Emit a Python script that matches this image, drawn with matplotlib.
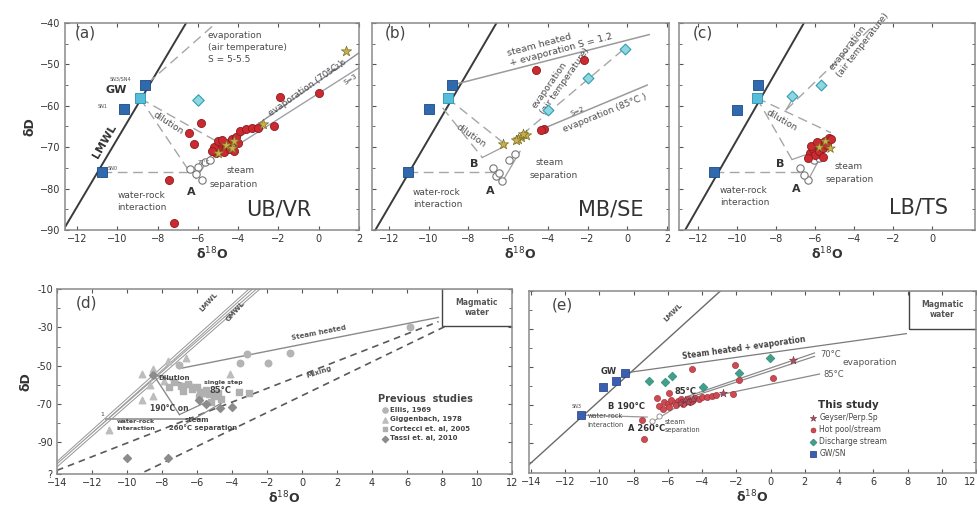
import numpy as np
import matplotlib
matplotlib.use('Agg')
import matplotlib.pyplot as plt
from matplotlib.patches import Rectangle

plt.rcParams['font.family'] = ['DejaVu Sans']

# ---------------- data : panel (a) UB/VR ----------------
a_sn_x = [-8.62, -9.69, -10.76]
a_sn_y = [-55.0, -60.8, -75.9]
a_gw_x = [-8.87]
a_gw_y = [-58.2]
a_diam_x = [-5.99]
a_diam_y = [-58.5]
a_red_x = [-7.42, -7.2, -6.43, -5.85, -6.2, -1.9, 0.0, -2.2,
           -5.1, -5.0, -4.9, -4.8, -4.6, -4.7, -4.5, -4.4, -5.2, -5.0,
           -4.3, -4.1, -3.9, -3.6, -3.3, -3.0, -4.0, -4.8, -5.3, -4.2]
a_red_y = [-77.9, -88.2, -66.5, -64.1, -69.3, -57.8, -56.9, -64.8,
           -71.5, -70.5, -69.5, -70.8, -70.0, -71.2, -69.0, -70.5, -70.0, -68.6,
           -68.0, -67.5, -66.2, -65.6, -65.3, -65.3, -69.0, -68.2, -71.0, -71.0]
a_star_x = [1.35, -2.76, -4.6, -4.3, -5.0, -4.2]
a_star_y = [-46.8, -64.3, -69.5, -70.2, -71.5, -68.6]
a_open_x = [-5.66, -6.0, -6.38, -6.1, -5.8, -5.4]
a_open_y = [-73.6, -74.8, -75.3, -76.4, -77.9, -73.0]
a_evapair_x = [-8.5, -5.1]
a_evapair_y = [-54.6, -40.0]
a_dil1_x = [-8.87, -5.1]
a_dil1_y = [-58.2, -68.5]
a_dil2_x = [-8.87, -6.5]
a_dil2_y = [-58.2, -75.3]
a_wr_x = [-10.76, -6.2]
a_wr_y = [-75.9, -75.9]
a_sep_x = [-6.1, -5.3]
a_sep_y = [-77.6, -71.6]
a_evap70_x = [-4.5, 2.0]
a_evap70_y = [-69.5, -47.2]
a_s3_x = [-4.2, 2.0]
a_s3_y = [-70.0, -50.8]

# ---------------- data : panel (b) MB/SE ----------------
b_sn_x = [-8.82, -9.96, -11.05]
b_sn_y = [-55.0, -60.8, -76.1]
b_gw_x = [-9.04]
b_gw_y = [-58.2]
b_red_x = [-4.6, -2.18, -4.18, -4.35]
b_red_y = [-51.4, -49.0, -65.5, -65.8]
b_diam_x = [-0.13, -1.96, -3.97]
b_diam_y = [-46.2, -53.3, -61.1]
b_star_x = [-6.28, -5.35, -5.1, -5.25, -5.5, -5.6]
b_star_y = [-69.3, -67.6, -67.0, -66.8, -68.0, -68.3]
b_open_x = [-5.64, -5.94, -6.78, -6.6, -6.3, -6.45]
b_open_y = [-71.7, -73.1, -75.1, -77.0, -78.1, -76.2]
b_sh_x = [-8.82, 1.1]
b_sh_y = [-55.0, -42.8]
b_evapair_x = [-5.3, -0.1]
b_evapair_y = [-67.0, -46.0]
b_evap85_x = [-4.43, 1.0]
b_evap85_y = [-65.9, -55.0]
b_dil1_x = [-9.04, -6.2]
b_dil1_y = [-58.2, -69.1]
b_dil2_x = [-9.3, -7.3]
b_dil2_y = [-60.5, -72.5]
b_b_x = [-7.3, -6.1]
b_b_y = [-72.5, -69.6]
b_wr_x = [-11.05, -6.6]
b_wr_y = [-76.1, -76.1]
b_sep_x = [-6.3, -5.4]
b_sep_y = [-78.4, -71.0]

# ---------------- data : panel (c) LB/TS ----------------
c_sn_x = [-8.94, -10.03, -11.2]
c_sn_y = [-55.0, -60.9, -76.1]
c_gw_x = [-9.01]
c_gw_y = [-58.1]
c_diam_x = [-7.18, -5.69]
c_diam_y = [-57.7, -55.0]
c_red_x = [-6.3, -6.1, -5.9, -5.7, -5.5, -5.3, -6.0, -5.8, -5.6, -6.4, -5.4, -5.2,
           -6.2, -5.9, -5.6]
c_red_y = [-71.5, -70.5, -69.8, -69.0, -68.5, -67.8, -72.0, -71.0, -70.3, -72.5,
           -69.5, -68.0, -69.8, -68.8, -72.4]
c_star_x = [-5.26, -5.5, -5.8]
c_star_y = [-70.3, -68.6, -69.9]
c_open_x = [-6.07, -6.8, -6.36, -6.6, -5.8]
c_open_y = [-73.1, -75.1, -78.0, -76.8, -72.6]
c_evapair_x = [-7.5, -3.1]
c_evapair_y = [-61.0, -41.0]
c_evapair2_x = [-7.5, -7.1]
c_evapair2_y = [-61.0, -57.7]
c_dil1_x = [-9.01, -5.2]
c_dil1_y = [-58.1, -66.5]
c_dil2_x = [-9.01, -7.2]
c_dil2_y = [-58.1, -73.0]
c_b_x = [-7.2, -6.3, -5.6]
c_b_y = [-73.0, -71.5, -68.0]
c_wr_x = [-11.2, -6.8]
c_wr_y = [-76.1, -76.1]
c_sep_x = [-6.4, -5.6]
c_sep_y = [-78.2, -71.2]

# ---------------- data : panel (d) previous studies ----------------
d_ellis_x = [-3.12, -3.52, -1.95, -0.71, 6.2, -7.01, -6.3, -5.6]
d_ellis_y = [-43.9, -48.8, -48.6, -43.5, -29.8, -49.7, -61.0, -64.0]
d_gigg_x = [-9.16, -8.49, -6.6, -7.64, -9.16, -8.49, -11.05, -4.13, -8.7, -7.9]
d_gigg_y = [-54.1, -51.8, -46.0, -47.4, -68.1, -65.9, -83.4, -54.4, -60.0, -58.0]
d_cort_x = [-7.3, -6.9, -6.5, -6.3, -6.0, -5.8, -5.5, -5.3, -5.0, -4.8, -4.6, -6.8,
            -5.9, -5.2, -3.6, -3.0, -7.6]
d_cort_y = [-58.5, -60.5, -59.5, -62.0, -61.0, -63.5, -62.5, -65.0, -66.0, -64.0,
            -67.5, -63.0, -66.5, -69.0, -63.5, -64.5, -61.0]
d_tassi_x = [-10.0, -7.64, -5.5, -4.7, -4.0, -8.5, -5.9]
d_tassi_y = [-98.0, -98.3, -70.0, -72.0, -71.5, -55.0, -68.0]
d_sh_x = [-7.0, 7.8]
d_sh_y = [-51.5, -24.8]
d_mix1_x = [-14.0, 7.8]
d_mix1_y = [-104.6, -27.0]
d_mix2_x = [-9.6, 8.3]
d_mix2_y = [-108.0, -29.0]
d_dil1_x = [-8.5, -5.0]
d_dil1_y = [-54.5, -64.5]
d_dil2_x = [-8.5, -7.0]
d_dil2_y = [-54.5, -75.5]
d_wr_x = [-11.2, -5.8]
d_wr_y = [-78.0, -78.0]
d_st1_x = [-7.0, -5.0]
d_st1_y = [-75.5, -67.0]
d_st2_x = [-6.6, -4.6]
d_st2_y = [-80.0, -69.5]

# ---------------- data : panel (e) this study ----------------
e_sn_x = [-8.48, -9.03, -9.77, -11.08]
e_sn_y = [-53.2, -57.6, -60.6, -75.2]
e_dis_x = [-7.12, -6.16, -5.75, -3.92, -1.86, -0.02]
e_dis_y = [-57.6, -58.0, -55.0, -60.9, -53.2, -45.1]
e_hot_x = [-4.58, -2.05, -1.86, 0.13, -2.2, -5.9, -7.37, -7.5,
           -6.5, -6.2, -6.0, -5.8, -5.6, -5.4, -5.2, -5.0, -4.8, -4.6, -4.4, -4.2,
           -4.0, -3.7, -3.4, -6.3, -5.9, -5.5, -5.1, -4.7, -6.6, -3.2]
e_hot_y = [-51.0, -49.2, -57.1, -55.9, -64.1, -63.8, -87.9, -78.0,
           -70.5, -68.5, -69.5, -67.5, -69.0, -68.0, -66.8, -68.5, -67.0, -67.8, -66.5, -67.2,
           -65.8, -66.0, -65.2, -72.0, -71.2, -70.2, -69.8, -68.8, -66.5, -64.8]
e_gey_x = [1.3, -2.79, -5.0, -4.8, -5.3, -4.5]
e_gey_y = [-46.5, -63.8, -67.5, -68.8, -69.0, -67.0]
e_open_x = [-6.9, -6.5]
e_open_y = [-78.5, -76.0]
e_sh_x = [-8.48, 7.93]
e_sh_y = [-53.2, -32.5]
e_e70a_x = [-4.94, 2.57]
e_e70a_y = [-65.9, -42.7]
e_e70b_x = [-4.94, 2.57]
e_e70b_y = [-66.8, -44.5]
e_e85_x = [-4.94, 2.86]
e_e85_y = [-68.5, -53.8]
e_wr_x = [-11.0, -7.2]
e_wr_y = [-75.5, -76.5]
e_sep_x = [-6.8, -5.0]
e_sep_y = [-78.5, -68.5]

# meteoric water lines (slope, intercept)
lmwl = (8.2, 14.0)
gmwl = (8.0, 10.0)

RED = '#cc2a30'
RED_E = '#8a1c20'
BLUE = '#2f6aae'
CYAN = '#54bedb'
DIAM = '#8fd6df'
DIAM_E = '#2d9fb3'
STAR = '#c8b24c'
STAR_E = '#7d6e26'
LGREY = '#a6a6a6'
TXT = '#4a4a4a'


def style(ax, xlim, ylim, xmaj, ymaj, ymin, ylabels=True, fs=7):
    ax.set_xlim(xlim)
    ax.set_ylim(ylim)
    ax.set_xticks(xmaj)
    ax.set_yticks(ymaj)
    ax.set_yticks(ymin, minor=True)
    ax.tick_params(which='both', direction='in', top=True, right=True,
                   labelsize=fs, colors='#555555', labelcolor='#333333', length=3, pad=3)
    ax.tick_params(which='minor', length=2)
    if not ylabels:
        ax.set_yticklabels([])
    for s in ax.spines.values():
        s.set_color('#8a8a8a')
        s.set_linewidth(1.1)


def draw_lmwl(ax, x0, x1, **kw):
    xs = np.array([x0, x1])
    ax.plot(xs, lmwl[0] * xs + lmwl[1], **kw)


fig = plt.figure(figsize=(9.77, 5.13), dpi=100)

ax_a = fig.add_axes([0.0665, 0.5517, 0.301, 0.4035])
ax_b = fig.add_axes([0.3808, 0.5517, 0.304, 0.4035])
ax_c = fig.add_axes([0.695, 0.5517, 0.303, 0.4035])
ax_d = fig.add_axes([0.0583, 0.076, 0.4657, 0.3606])
ax_e = fig.add_axes([0.5415, 0.078, 0.4575, 0.3548])

yt_top = [-90, -80, -70, -60, -50, -40]
ym_top = list(range(-90, -39, 5))
style(ax_a, (-12.6, 2.0), (-90, -40), [-12, -10, -8, -6, -4, -2, 0, 2], yt_top, ym_top)
style(ax_b, (-12.85, 2.1), (-90, -40), [-12, -10, -8, -6, -4, -2, 0, 2], yt_top, ym_top, ylabels=False)
style(ax_c, (-13.0, 2.2), (-90, -40), [-12, -10, -8, -6, -4, -2, 0], yt_top, ym_top, ylabels=False)
style(ax_d, (-14, 12), (-106.5, -10), list(range(-14, 13, 2)), [-106.5, -90, -70, -50, -30, -10],
      list(range(-100, -9, 10)), fs=7)
ax_d.set_yticklabels(['?', '-90', '-70', '-50', '-30', '-10'])
style(ax_e, (-14.1, 12), (-106, -10), list(range(-14, 13, 2)), [-90, -70, -50, -30, -10],
      list(range(-100, -9, 10)), ylabels=False, fs=7)
# last x label of (e) sits at the figure edge
ax_e.get_xticklabels()[-1].set_horizontalalignment('right')

for ax in [ax_a, ax_b, ax_c, ax_d, ax_e]:
    ax.set_xlabel('δ$^{18}$O', fontsize=9, fontweight='bold', color='#333333', labelpad=1)
ax_a.set_ylabel('δD', fontsize=9, fontweight='bold', color='#333333', labelpad=3)
ax_d.set_ylabel('δD', fontsize=9, fontweight='bold', color='#333333', labelpad=3)

dash = dict(color=LGREY, lw=1.0, ls=(0, (7, 4)))
thin = dict(color='#9e9e9e', lw=0.9)
ann = dict(color=TXT, fontsize=6.5)

# ---------------- panel (a) ----------------
ax = ax_a
draw_lmwl(ax, -13, -5, color='#3a3a3a', lw=1.4)
ax.plot(a_evapair_x, a_evapair_y, **dash)
ax.plot(a_dil1_x, a_dil1_y, **dash)
ax.plot(a_dil2_x, a_dil2_y, **dash)
ax.plot(a_wr_x, a_wr_y, **dash)
ax.plot(a_sep_x, a_sep_y, **thin)
ax.plot(a_evap70_x, a_evap70_y, color='#8c8c9a', lw=1.0)
ax.plot(a_s3_x, a_s3_y, color='#a0a0a8', lw=1.0)
ax.scatter(a_open_x, a_open_y, s=28, facecolor='white', edgecolor='#777777', lw=0.8, zorder=3)
ax.scatter(a_red_x, a_red_y, s=34, color=RED, edgecolor=RED_E, lw=0.6, zorder=4)
ax.scatter(a_star_x, a_star_y, s=60, marker='*', color=STAR, edgecolor=STAR_E, lw=0.5, zorder=5)
ax.scatter(a_diam_x, a_diam_y, s=34, marker='D', color=DIAM, edgecolor=DIAM_E, lw=0.8, zorder=5)
ax.scatter(a_sn_x, a_sn_y, s=42, marker='s', color=BLUE, edgecolor='#1d4a80', lw=0.6, zorder=5)
ax.scatter(a_gw_x, a_gw_y, s=42, marker='s', color=CYAN, edgecolor='#2a8fb0', lw=0.6, zorder=6)
ax.text(-12.1, -43.5, '(a)', fontsize=11, color='#444444')
ax.text(-5.5, -42.0, 'evaporation\n(air temperature)\nS = 5-5.5', va='top', linespacing=1.4, **ann)
ax.text(-10.4, -53.8, 'SN3/SN4', fontsize=3.5, color=TXT)
ax.text(-10.6, -57.0, 'GW', fontsize=8, fontweight='bold', color='#333333')
ax.text(-11.0, -60.6, 'SN1', fontsize=3.5, color=TXT)
ax.text(-10.5, -75.4, 'SN0', fontsize=3.5, color=TXT)
ax.text(-11.3, -72.5, 'LMWL', fontsize=8, fontweight='bold', color='#333333', rotation=60)
ax.text(-8.3, -67.0, 'dilution', rotation=-33, **ann)
ax.text(-4.6, -76.3, 'steam', **ann)
ax.text(-5.4, -79.6, 'separation', **ann)
ax.text(-6.55, -81.6, 'A', fontsize=8, fontweight='bold', color='#333333')
ax.text(-10.0, -85.2, 'water-rock\ninteraction', linespacing=1.4, **ann)
ax.text(-3.6, -86.5, 'UB/VR', fontsize=15, color='#333333')
ax.text(-2.6, -62.5, 'evaporation (70°C )', rotation=35, **ann)
ax.text(0.4, -52.5, 'S=3.6', fontsize=5, color=TXT, rotation=35)
ax.text(1.2, -55.0, 'S=3', fontsize=5, color=TXT, rotation=33)
ax.text(-6.0, -74.0, '70°C', fontsize=3.5, color=TXT)

# ---------------- panel (b) ----------------
ax = ax_b
draw_lmwl(ax, -13, -5, color='#3a3a3a', lw=1.4)
ax.plot(b_sh_x, b_sh_y, color='#9a9a9a', lw=1.1)
ax.plot(b_evapair_x, b_evapair_y, **dash)
ax.plot(b_evap85_x, b_evap85_y, color='#9a9a9a', lw=1.1)
ax.plot(b_dil1_x, b_dil1_y, **dash)
ax.plot(b_dil2_x, b_dil2_y, **dash)
ax.plot(b_b_x, b_b_y, **thin)
ax.plot(b_wr_x, b_wr_y, **dash)
ax.plot(b_sep_x, b_sep_y, **thin)
ax.scatter(b_open_x, b_open_y, s=28, facecolor='white', edgecolor='#777777', lw=0.8, zorder=3)
ax.scatter(b_red_x, b_red_y, s=34, color=RED, edgecolor=RED_E, lw=0.6, zorder=4)
ax.scatter(b_star_x, b_star_y, s=60, marker='*', color=STAR, edgecolor=STAR_E, lw=0.5, zorder=5)
ax.scatter(b_diam_x, b_diam_y, s=30, marker='D', color=DIAM, edgecolor=DIAM_E, lw=0.8, zorder=5)
ax.scatter(b_sn_x, b_sn_y, s=42, marker='s', color=BLUE, edgecolor='#1d4a80', lw=0.6, zorder=5)
ax.scatter(b_gw_x, b_gw_y, s=42, marker='s', color=CYAN, edgecolor='#2a8fb0', lw=0.6, zorder=6)
ax.text(-12.2, -43.5, '(b)', fontsize=11, color='#444444')
ax.text(-6.1, -50.5, 'steam heated\n+ evaporation S = 1.2', rotation=15, linespacing=1.3,
        fontsize=6.8, color=TXT)
ax.text(-4.9, -62.0, 'evaporation\n(air temperature)', rotation=55, linespacing=1.2, **ann)
ax.text(-2.9, -62.5, 'S=2', fontsize=5, color=TXT, rotation=23)
ax.text(-3.3, -66.3, 'evaporation (85°C )', rotation=22, **ann)
ax.text(-8.7, -70.0, 'dilution', rotation=-35, **ann)
ax.text(-7.9, -74.8, 'B', fontsize=8, fontweight='bold', color='#333333')
ax.text(-7.1, -81.3, 'A', fontsize=8, fontweight='bold', color='#333333')
ax.text(-4.6, -74.3, 'steam', **ann)
ax.text(-4.9, -77.4, 'separation', **ann)
ax.text(-10.8, -84.5, 'water-rock\ninteraction', linespacing=1.4, **ann)
ax.text(-2.5, -86.5, 'MB/SE', fontsize=15, color='#333333')

# ---------------- panel (c) ----------------
ax = ax_c
draw_lmwl(ax, -13.5, -5, color='#3a3a3a', lw=1.4)
ax.plot(c_evapair_x, c_evapair_y, **dash)
ax.plot(c_evapair2_x, c_evapair2_y, **thin)
ax.plot(c_dil1_x, c_dil1_y, **dash)
ax.plot(c_dil2_x, c_dil2_y, **dash)
ax.plot(c_b_x, c_b_y, **thin)
ax.plot(c_wr_x, c_wr_y, **dash)
ax.plot(c_sep_x, c_sep_y, **thin)
ax.scatter(c_open_x, c_open_y, s=28, facecolor='white', edgecolor='#777777', lw=0.8, zorder=3)
ax.scatter(c_red_x, c_red_y, s=34, color=RED, edgecolor=RED_E, lw=0.6, zorder=4)
ax.scatter(c_star_x, c_star_y, s=50, marker='*', color=STAR, edgecolor=STAR_E, lw=0.5, zorder=5)
ax.scatter(c_diam_x, c_diam_y, s=30, marker='D', color=DIAM, edgecolor=DIAM_E, lw=0.8, zorder=5)
ax.scatter(c_sn_x, c_sn_y, s=42, marker='s', color=BLUE, edgecolor='#1d4a80', lw=0.6, zorder=5)
ax.scatter(c_gw_x, c_gw_y, s=42, marker='s', color=CYAN, edgecolor='#2a8fb0', lw=0.6, zorder=6)
ax.text(-12.3, -43.5, '(c)', fontsize=11, color='#444444')
ax.text(-5.4, -53.0, 'evaporation\n(air temperature)', rotation=52, linespacing=1.2, **ann)
ax.text(-8.6, -66.0, 'dilution', rotation=-30, **ann)
ax.text(-8.0, -74.8, 'B', fontsize=8, fontweight='bold', color='#333333')
ax.text(-7.2, -80.8, 'A', fontsize=8, fontweight='bold', color='#333333')
ax.text(-5.0, -75.3, 'steam', **ann)
ax.text(-5.5, -78.5, 'separation', **ann)
ax.text(-10.9, -84.0, 'water-rock\ninteraction', linespacing=1.4, **ann)
ax.text(-2.2, -86.0, 'LB/TS', fontsize=15, color='#333333')

# ---------------- panel (d) ----------------
ax = ax_d
xs = np.array([-14.5, -2.0])
ax.plot(xs, lmwl[0] * xs + lmwl[1], color='#9a9a9a', lw=2.4)
ax.plot(xs, lmwl[0] * xs + lmwl[1], color='white', lw=0.9)
ax.plot(xs, gmwl[0] * xs + gmwl[1], color='#9a9a9a', lw=2.4)
ax.plot(xs, gmwl[0] * xs + gmwl[1], color='white', lw=0.9)
ax.plot(d_sh_x, d_sh_y, color='#8a8a8a', lw=1.0)
ax.plot(d_mix1_x, d_mix1_y, color='#5a5a5a', lw=1.2, ls=(0, (4, 3)))
ax.plot(d_mix2_x, d_mix2_y, color='#5a5a5a', lw=1.2, ls=(0, (4, 3)))
ax.plot(d_dil1_x, d_dil1_y, color='#8a8a8a', lw=1.0)
ax.plot(d_dil2_x, d_dil2_y, color='#8a8a8a', lw=1.0)
ax.plot(d_wr_x, d_wr_y, color='#a0a0a0', lw=1.4)
ax.plot(d_st1_x, d_st1_y, color='#8a8a8a', lw=0.9)
ax.plot(d_st2_x, d_st2_y, color='#8a8a8a', lw=0.9)
ax.scatter(d_ellis_x, d_ellis_y, s=22, marker='o', color='#b4b4b4', label='Ellis, 1969', zorder=3)
ax.scatter(d_gigg_x, d_gigg_y, s=22, marker='^', color='#bdbdbd', label='Giggenbach, 1978', zorder=3)
ax.scatter(d_cort_x, d_cort_y, s=18, marker='s', color='#b0b0b0', label='Cortecci et. al, 2005', zorder=3)
ax.scatter(d_tassi_x, d_tassi_y, s=16, marker='D', color='#8c8c8c', label='Tassi et. al, 2010', zorder=3)
ax.add_patch(Rectangle((8.0, -29.3), 4.2, 19.6, fill=False, ec='#444444', lw=1.0))
ax.text(10.0, -19.5, 'Magmatic\nwater', ha='center', va='center', fontsize=5.5,
        fontweight='bold', color='#555555')
ax.text(-12.9, -19.5, '(d)', fontsize=11, color='#444444')
ax.text(-5.9, -22.0, 'LMWL', fontsize=5, fontweight='bold', color='#555555', rotation=48)
ax.text(-4.4, -27.0, 'GMWL', fontsize=5, fontweight='bold', color='#555555', rotation=48)
ax.text(-0.6, -36.5, 'Steam heated', fontsize=5, fontweight='bold', color='#555555', rotation=11)
ax.text(0.2, -56.5, 'Mixing', fontsize=5, fontweight='bold', color='#555555', rotation=18)
ax.text(-8.2, -57.5, 'Dilution', fontsize=5, fontweight='bold', color='#444444')
ax.text(-5.6, -59.5, 'single step', fontsize=4.5, fontweight='bold', color='#444444')
ax.text(-5.3, -64.5, '85°C', fontsize=6, fontweight='bold', color='#444444')
ax.text(-8.7, -73.5, '190°C on', fontsize=5.5, fontweight='bold', color='#444444')
ax.text(-6.7, -79.5, 'steam', fontsize=5, fontweight='bold', color='#444444')
ax.text(-7.6, -83.5, '260°C separation', fontsize=5, fontweight='bold', color='#444444')
ax.text(-10.6, -83.5, 'water-rock\ninteraction', fontsize=4.5, fontweight='bold',
        color='#444444', linespacing=1.6)
ax.text(-11.5, -76.0, '1', fontsize=4.5, color='#444444')
leg = ax.legend(loc='upper left', bbox_to_anchor=(0.70, 0.45), frameon=False, fontsize=5,
                title='Previous  studies', handletextpad=0.3, labelspacing=0.5,
                borderaxespad=0, handlelength=1.0, markerscale=0.8)
leg.get_title().set_fontweight('bold')
leg.get_title().set_fontsize(7)
leg.get_title().set_color('#444444')
for t in leg.get_texts():
    t.set_color('#444444')
    t.set_fontweight('bold')

# ---------------- panel (e) ----------------
ax = ax_e
draw_lmwl(ax, -14.5, -2.8, color='#6a6a6a', lw=1.0)
ax.plot(e_sh_x, e_sh_y, color='#7a7a7a', lw=0.9)
ax.plot(e_e70a_x, e_e70a_y, color='#8a8a8a', lw=0.9)
ax.plot(e_e70b_x, e_e70b_y, color='#8a8a8a', lw=0.9)
ax.plot(e_e85_x, e_e85_y, color='#8a8a8a', lw=0.9)
ax.plot(e_wr_x, e_wr_y, color='#9a9a9a', lw=0.9)
ax.plot(e_sep_x, e_sep_y, color='#9a9a9a', lw=0.9)
ax.scatter(e_open_x, e_open_y, s=14, facecolor='white', edgecolor='#888888', lw=0.6, zorder=3)
ax.scatter(e_gey_x, e_gey_y, s=36, marker='*', color='#a8505e', edgecolor='#7a3040', lw=0.4,
           label='Geyser/Perp.Sp', zorder=5)
ax.scatter(e_hot_x, e_hot_y, s=20, marker='o', color='#cc4a52', edgecolor='#9a2a30', lw=0.4,
           label='Hot pool/stream', zorder=4)
ax.scatter(e_dis_x, e_dis_y, s=20, marker='D', color='#3fa08c', edgecolor='#2a7a68', lw=0.4,
           label='Discharge stream', zorder=5)
ax.scatter(e_sn_x, e_sn_y, s=30, marker='s', color='#3a5eb0', edgecolor='#1f3a80', lw=0.5,
           label='GW/SN', zorder=5)
ax.add_patch(Rectangle((8.08, -29.9), 4.2, 20.3, fill=False, ec='#444444', lw=1.0))
ax.text(10.05, -19.8, 'Magmatic\nwater', ha='center', va='center', fontsize=5.5,
        fontweight='bold', color='#555555')
ax.text(-12.8, -19.8, '(e)', fontsize=11, color='#444444')
ax.text(-6.3, -26.0, 'LMWL', fontsize=5, fontweight='bold', color='#555555', rotation=45)
ax.text(-5.2, -46.0, 'Steam heated + evaporation', fontsize=5.5, fontweight='bold',
        color='#444444', rotation=8)
ax.text(2.9, -45.0, '70°C', fontsize=6, color='#555555')
ax.text(4.2, -49.0, 'evaporation', fontsize=6.5, color='#555555')
ax.text(3.1, -55.5, '85°C', fontsize=6, color='#555555')
ax.text(-9.9, -54.0, 'GW', fontsize=6, fontweight='bold', color='#333333')
ax.text(-11.6, -71.5, 'SN3', fontsize=3.5, color=TXT)
ax.text(-5.6, -64.5, '85°C', fontsize=6, fontweight='bold', color='#333333')
ax.text(-9.5, -72.0, 'B 190°C', fontsize=6, fontweight='bold', color='#333333')
ax.text(-8.3, -84.0, 'A 260°C', fontsize=6, fontweight='bold', color='#333333')
ax.text(-6.2, -84.5, 'steam\nseparation', fontsize=4.8, color='#444444', linespacing=1.5)
ax.text(-10.7, -81.5, 'water-rock\ninteraction', fontsize=4.8, color='#444444', linespacing=1.5)
leg = ax.legend(loc='upper left', bbox_to_anchor=(0.62, 0.42), frameon=False, fontsize=5.5,
                title='This study', handletextpad=0.3, labelspacing=0.4,
                borderaxespad=0, handlelength=1.0, markerscale=0.8)
leg.get_title().set_fontweight('bold')
leg.get_title().set_fontsize(7.5)
leg.get_title().set_color('#333333')
for t in leg.get_texts():
    t.set_color('#444444')

fig.savefig('out.png', dpi=100)
